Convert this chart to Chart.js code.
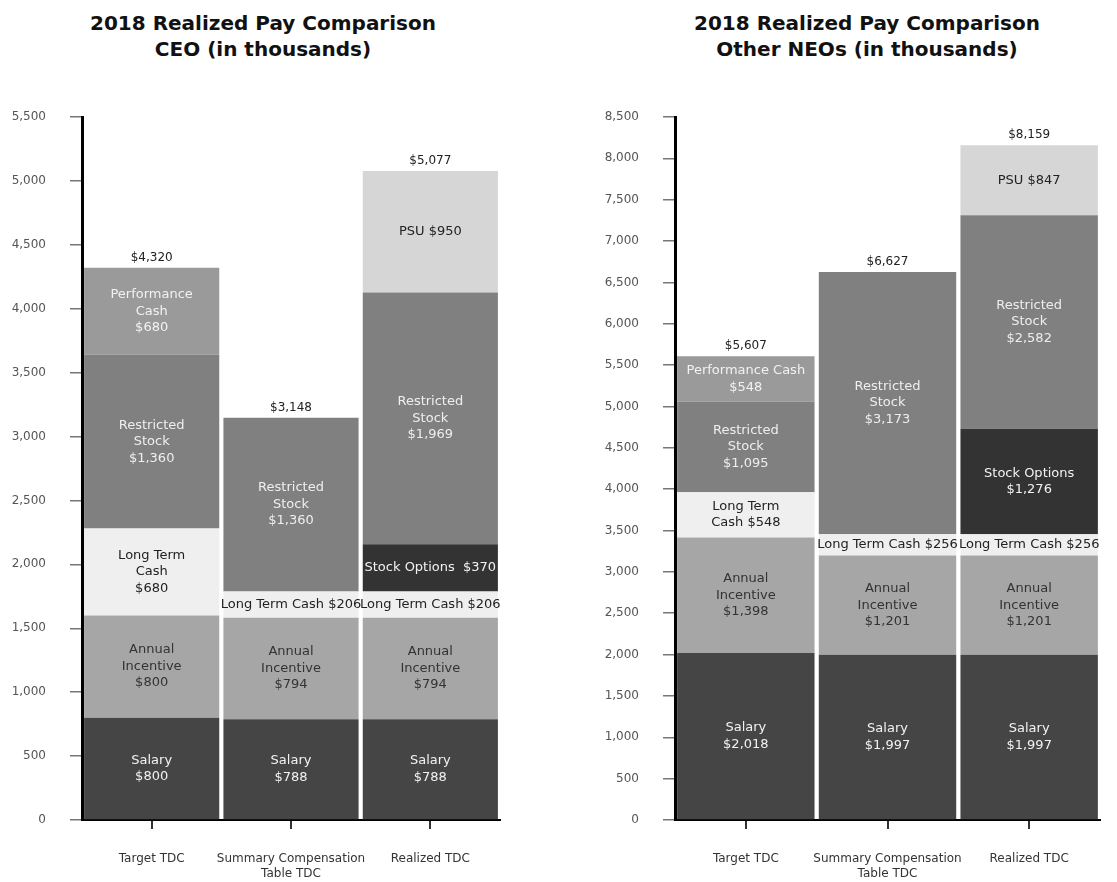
<!DOCTYPE html>
<html>
<head>
<meta charset="utf-8">
<title>2018 Realized Pay Comparison</title>
<script src="https://cdn.jsdelivr.net/npm/chart.js@4.4.1/dist/chart.umd.min.js"></script>
<style>
  body { margin: 0; background: #fff; }
  canvas { position: absolute; top: 0; }
  #ceoChart { left: 0; }
  #neoChart { left: 580px; }
  .title {
    position: absolute; top: 10px; text-align: center;
    font: bold 20px/26px 'DejaVu Sans', sans-serif; color: #111;
  }
  #ceoTitle { left: 0; width: 526px; }
  #neoTitle { left: 617px; width: 500px; }
</style>
</head>
<body>
<div class="title" id="ceoTitle">2018 Realized Pay Comparison<br>CEO (in thousands)</div>
<div class="title" id="neoTitle">2018 Realized Pay Comparison<br>Other NEOs (in thousands)</div>
<canvas id="ceoChart" width="540" height="882"></canvas>
<canvas id="neoChart" width="537" height="882"></canvas>
<script>
// categories (multi-line labels)
const categories = [["Target TDC"], ["Summary Compensation", "Table TDC"], ["Realized TDC"]];
const components = ["Salary", "Annual Incentive", "Long Term Cash", "Stock Options", "Restricted Stock", "Performance Cash", "PSU"];

// CEO values (in thousands)
const ceoSalary = [800, 788, 788];
const ceoAnnualIncentive = [800, 794, 794];
const ceoLongTermCash = [680, 206, 206];
const ceoStockOptions = [null, null, 370];
const ceoRestrictedStock = [1360, 1360, 1969];
const ceoPerformanceCash = [680, null, null];
const ceoPsu = [null, null, 950];

// Other NEOs values (in thousands)
const neoSalary = [2018, 1997, 1997];
const neoAnnualIncentive = [1398, 1201, 1201];
const neoLongTermCash = [548, 256, 256];
const neoStockOptions = [null, null, 1276];
const neoRestrictedStock = [1095, 3173, 2582];
const neoPerformanceCash = [548, null, null];
const neoPsu = [null, null, 847];

// y tick range
const ceoMax = 5500;
const neoMax = 8500;
const tickStep = 500;

// label text per segment, "|" = new line, {v} = value
const ceoText = [
  ["Salary|{v}", "Salary|{v}", "Salary|{v}"],
  ["Annual|Incentive|{v}", "Annual|Incentive|{v}", "Annual|Incentive|{v}"],
  ["Long Term|Cash|{v}", "Long Term Cash {v}", "Long Term Cash {v}"],
  [null, null, "Stock Options  {v}"],
  ["Restricted|Stock|{v}", "Restricted|Stock|{v}", "Restricted|Stock|{v}"],
  ["Performance|Cash|{v}", null, null],
  [null, null, "PSU {v}"]
];
const neoText = [
  ["Salary|{v}", "Salary|{v}", "Salary|{v}"],
  ["Annual|Incentive|{v}", "Annual|Incentive|{v}", "Annual|Incentive|{v}"],
  ["Long Term|Cash {v}", "Long Term Cash {v}", "Long Term Cash {v}"],
  [null, null, "Stock Options|{v}"],
  ["Restricted|Stock|{v}", "Restricted|Stock|{v}", "Restricted|Stock|{v}"],
  ["Performance Cash|{v}", null, null],
  [null, null, "PSU {v}"]
];

const fillColors = ["#454545", "#a6a6a6", "#efefef", "#333333", "#808080", "#9a9a9a", "#d6d6d6"];
const textColors = ["#f2f2f2", "#333333", "#222222", "#f2f2f2", "#eeeeee", "#f2f2f2", "#222222"];

const FONT = "'DejaVu Sans', sans-serif";

function money(v) {
  return "$" + v.toLocaleString("en-US");
}

// draws text inside each segment and the total above each bar
const segmentLabels = {
  id: "segmentLabels",
  afterDatasetsDraw(chart) {
    const ctx = chart.ctx;
    const texts = chart.options.plugins.segmentLabels.texts;
    ctx.save();
    ctx.textAlign = "center";
    ctx.textBaseline = "middle";
    ctx.font = "13px " + FONT;
    chart.data.datasets.forEach((ds, i) => {
      const meta = chart.getDatasetMeta(i);
      meta.data.forEach((bar, j) => {
        const v = ds.data[j];
        if (v == null || !texts[i][j]) return;
        const lines = texts[i][j].replace("{v}", money(v)).split("|");
        const mid = (bar.y + bar.base) / 2;
        const lh = 16.5;
        ctx.fillStyle = textColors[i];
        lines.forEach((l, k) => {
          ctx.fillText(l, bar.x, mid + (k - (lines.length - 1) / 2) * lh);
        });
      });
    });
    // totals
    ctx.font = "12px " + FONT;
    ctx.fillStyle = "#222";
    const yScale = chart.scales.y;
    const xScale = chart.scales.x;
    chart.data.labels.forEach((lab, j) => {
      let total = 0;
      chart.data.datasets.forEach(ds => { total += ds.data[j] || 0; });
      ctx.fillText(money(total), xScale.getPixelForValue(j), yScale.getPixelForValue(total) - 10);
    });
    ctx.restore();
  }
};

function makeDatasets(series) {
  return series.map((arr, i) => ({
    label: components[i],
    data: arr,
    backgroundColor: fillColors[i],
    borderWidth: 0,
    barPercentage: 0.97,
    categoryPercentage: 1.0
  }));
}

function makeChart(id, series, texts, maxVal, padRight, yWidth) {
  return new Chart(document.getElementById(id), {
    type: "bar",
    data: { labels: categories, datasets: makeDatasets(series) },
    plugins: [segmentLabels],
    options: {
      responsive: false,
      animation: false,
      layout: { padding: { left: 0, right: padRight, top: 117, bottom: 0 } },
      plugins: {
        legend: { display: false },
        tooltip: { enabled: false },
        title: { display: false },
        segmentLabels: { texts: texts }
      },
      scales: {
        x: {
          stacked: true,
          grid: { drawOnChartArea: false, drawTicks: true, tickLength: 9, offset: false, color: "#333", lineWidth: 2 },
          border: { color: "#000", width: 2 },
          ticks: { padding: 23, color: "#333", font: { family: FONT, size: 12 }, maxRotation: 0, autoSkip: false },
          afterFit: s => { s.height = 62; }
        },
        y: {
          stacked: true,
          min: 0,
          max: maxVal,
          grid: { drawOnChartArea: false, tickLength: 12, color: "#777", lineWidth: 1.5 },
          border: { color: "#000", width: 3 },
          ticks: { stepSize: tickStep, padding: 24, color: "#555", font: { family: FONT, size: 12 } },
          afterFit: s => { s.width = yWidth; }
        }
      }
    }
  });
}

makeChart("ceoChart",
  [ceoSalary, ceoAnnualIncentive, ceoLongTermCash, ceoStockOptions, ceoRestrictedStock, ceoPerformanceCash, ceoPsu],
  ceoText, ceoMax, 40, 82);

makeChart("neoChart",
  [neoSalary, neoAnnualIncentive, neoLongTermCash, neoStockOptions, neoRestrictedStock, neoPerformanceCash, neoPsu],
  neoText, neoMax, 17, 95);
</script>
</body>
</html>
